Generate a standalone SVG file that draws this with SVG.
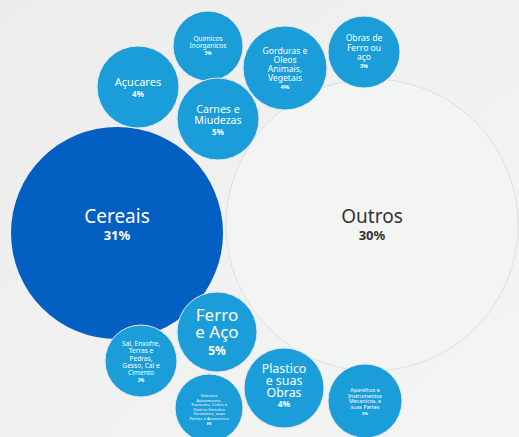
<svg xmlns="http://www.w3.org/2000/svg" width="519" height="437" viewBox="0 0 519 437">
<defs>
<linearGradient id="bg" x1="0" y1="0" x2="1" y2="1">
<stop offset="0" stop-color="#ececed"/>
<stop offset="0.5" stop-color="#f1f1f2"/>
<stop offset="1" stop-color="#f4f4f4"/>
</linearGradient>
<style>
text{font-family:"Noto Sans","Open Sans",sans-serif;text-anchor:middle;fill:#ffffff}
.b{fill:#1a9dd9;stroke:#e4e8ea;stroke-width:1}
.p{font-weight:bold}
</style>
</defs>
<rect width="519" height="437" fill="url(#bg)"/>
<g id="outros">
<circle cx="372" cy="225" r="146" fill="#f3f5f5" stroke="#dcdfe0" stroke-width="1"/>
<text x="372" y="223" font-size="19" style="fill:#333333">Outros</text>
<text x="372" y="240" font-size="13" class="p" style="fill:#333333">30%</text>
</g>
<g id="cereais">
<circle cx="117" cy="233" r="106" fill="#035fc2"/>
<text x="117" y="223" font-size="19">Cereais</text>
<text x="117" y="240" font-size="13" class="p">31%</text>
</g>
<g id="acucares">
<circle class="b" cx="138" cy="87" r="41"/>
<text x="138" y="86" font-size="11">Açucares</text>
<text x="138" y="97" font-size="8" class="p">4%</text>
</g>
<g id="quimicos">
<circle class="b" cx="208" cy="46" r="35"/>
<text x="208" y="41" font-size="6.6">Quimicos</text>
<text x="208" y="48" font-size="6.6">Inorganicos</text>
<text x="208" y="55" font-size="4.8" class="p">3%</text>
</g>
<g id="gorduras">
<circle class="b" cx="285" cy="68" r="42"/>
<text x="285" y="54" font-size="8.6">Gorduras e</text>
<text x="285" y="63" font-size="8.6">Oleos</text>
<text x="285" y="72" font-size="8.6">Animais,</text>
<text x="285" y="81" font-size="8.6">Vegetais</text>
<text x="285" y="89" font-size="6" class="p">4%</text>
</g>
<g id="obras-ferro">
<circle class="b" cx="364" cy="52" r="36"/>
<text x="364" y="41" font-size="8.6">Obras de</text>
<text x="364" y="50.5" font-size="8.6">Ferro ou</text>
<text x="364" y="60" font-size="8.6">aço</text>
<text x="364" y="68" font-size="5.5" class="p">3%</text>
</g>
<g id="carnes">
<circle class="b" cx="218" cy="119" r="41"/>
<text x="218" y="113" font-size="10.6">Carnes e</text>
<text x="218" y="124" font-size="10.6">Miudezas</text>
<text x="218" y="135" font-size="8" class="p">5%</text>
</g>
<g id="ferro-aco">
<circle class="b" cx="217" cy="332" r="40"/>
<text x="217" y="321" font-size="17">Ferro</text>
<text x="217" y="338" font-size="17">e Aço</text>
<text x="217" y="355" font-size="12" class="p">5%</text>
</g>
<g id="sal">
<circle class="b" cx="141" cy="361" r="36"/>
<text x="141" y="346" font-size="6.6">Sal, Enxofre,</text>
<text x="141" y="353.3" font-size="6.6">Terras e</text>
<text x="141" y="360.6" font-size="6.6">Pedras,</text>
<text x="141" y="368" font-size="6.6">Gesso, Cal e</text>
<text x="141" y="375.3" font-size="6.6">Cimento</text>
<text x="141" y="382" font-size="4.5" class="p">3%</text>
</g>
<g id="veiculos">
<circle class="b" cx="209" cy="408" r="34"/>
<text x="209" y="397" font-size="4.3">Veiculos</text>
<text x="209" y="401.5" font-size="4.3">Automoveis,</text>
<text x="209" y="406" font-size="4.3">Tractores, Ciclos e</text>
<text x="209" y="410.5" font-size="4.3">Outros Veiculos</text>
<text x="209" y="415" font-size="4.3">Terrestres, suas</text>
<text x="209" y="419.5" font-size="4.3">Partes e Acessorios</text>
<text x="209" y="425" font-size="3.5" class="p">3%</text>
</g>
<g id="plastico">
<circle class="b" cx="284" cy="388" r="40"/>
<text x="284" y="373" font-size="12.4">Plastico</text>
<text x="284" y="385" font-size="12.4">e suas</text>
<text x="284" y="397" font-size="12.4">Obras</text>
<text x="284" y="407" font-size="8.5" class="p">4%</text>
</g>
<g id="aparelhos">
<circle class="b" cx="365" cy="401" r="37"/>
<text x="365" y="392" font-size="5.3">Aparelhos e</text>
<text x="365" y="397.5" font-size="5.3">Instrumentos</text>
<text x="365" y="403" font-size="5.3">Mecanicos, e</text>
<text x="365" y="408.5" font-size="5.3">suas Partes</text>
<text x="365" y="415" font-size="4" class="p">3%</text>
</g>
<g id="connectors"/>
</svg>
